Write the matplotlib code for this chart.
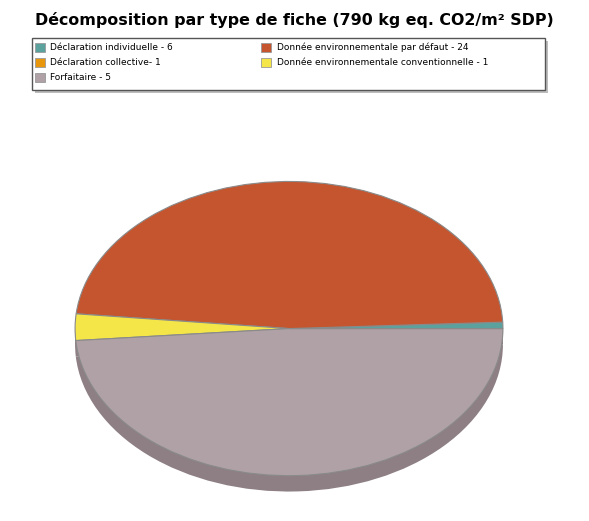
import matplotlib.pyplot as plt
from matplotlib.patches import Patch, Rectangle

# legend labels (counts of fiches) and pie shares (% of the 790 kg eq. CO2/m² SDP)
labels = ["Déclaration individuelle - 6", "Déclaration collective- 1", "Forfaitaire - 5",
          "Donnée environnementale par défaut - 24", "Donnée environnementale conventionnelle - 1"]
colors = ["#5ba29f", "#e8960c", "#afa1a5", "#c4552f", "#f4e548"]

pie_labels = ["Déclaration individuelle", "Donnée par défaut", "Donnée conventionnelle", "Forfaitaire", "Déclaration collective"]
pie_shares = [0.7, 47.7, 2.9, 48.7, 0.0]
pie_colors = ["#5ba29f", "#c4552f", "#f4e548", "#afa1a5", "#e8960c"]
side_color = "#8d7f83"

W, H = 589, 521
fig = plt.figure(figsize=(W / 100, H / 100), dpi=100)

fig.text(0.5, 1 - 20 / H, "Décomposition par type de fiche (790 kg eq. CO2/m² SDP)",
         ha="center", va="center", fontsize=11.4, fontweight="bold")

# pie axes: top face box in pixels (x 74..504, y 180..477), side 16 px deep
x0, x1, y0, y1, d = 74, 504, 180, 477, 16
ax = fig.add_axes([x0 / W, 1 - (y1 + d) / H, (x1 - x0) / W, (y1 + d - y0) / H])
depth = d / ((y1 - y0) / 2)

# side (depth) of the pie
ax.pie(pie_shares, colors=[side_color] * len(pie_shares), startangle=0, center=(0, -depth), radius=1,
       wedgeprops=dict(edgecolor="none"), normalize=True)
ax.add_patch(Rectangle((-1, -depth), 2, depth, facecolor=side_color, edgecolor="none", zorder=1))
# top face
wedges, _ = ax.pie(pie_shares, colors=pie_colors, startangle=0, radius=1,
                   wedgeprops=dict(edgecolor="#8a8a8a", linewidth=0.8), normalize=True)
for w in wedges:
    w.set_zorder(3)
ax.set_aspect("auto")
ax.set_xlim(-1.005, 1.005)
ax.set_ylim(-1 - depth - 0.01, 1.01)
ax.axis("off")

# legend frame with shadow
lx0, lx1, ly0, ly1 = 32, 545, 38, 90
fig.patches.append(Rectangle((lx0 / W + 3 / W, 1 - (ly1 + 3) / H), (lx1 - lx0) / W, (ly1 - ly0) / H,
                             transform=fig.transFigure, facecolor="#bdbdbd", edgecolor="none", zorder=1))
fig.patches.append(Rectangle((lx0 / W, 1 - ly1 / H), (lx1 - lx0) / W, (ly1 - ly0) / H,
                             transform=fig.transFigure, facecolor="white", edgecolor="#555555",
                             linewidth=1.0, zorder=2))

handles = [Patch(facecolor=c, edgecolor="#999999", linewidth=0.6) for c in colors]
leg = fig.legend(handles, labels, ncol=2, loc="upper left",
                 bbox_to_anchor=(33 / W, 1 - 41 / H),
                 fontsize=6.5, frameon=False,
                 handlelength=1.1, handleheight=1.1, handletextpad=0.6,
                 labelspacing=0.62, borderpad=0.2, columnspacing=9.8, borderaxespad=0)
leg.set_zorder(3)

fig.savefig("out.png", dpi=100)
